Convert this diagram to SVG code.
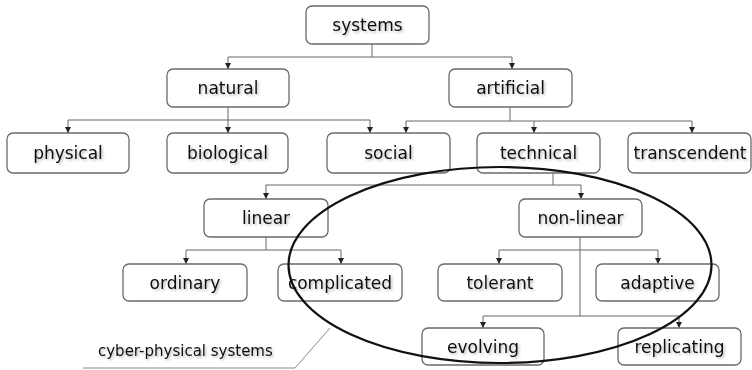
<svg xmlns="http://www.w3.org/2000/svg" width="752" height="370" viewBox="0 0 752 370">
  <defs>
    <marker id="arrow" viewBox="0 0 6 6" refX="6" refY="3" markerWidth="6" markerHeight="6" markerUnits="userSpaceOnUse" orient="auto">
      <path d="M0,0 L6,3 L0,6 Z" fill="#222"/>
    </marker>
    <filter id="soft" x="-10%" y="-30%" width="130%" height="170%">
      <feDropShadow dx="1.5" dy="1.5" stdDeviation="1" flood-color="#000" flood-opacity="0.28"/>
    </filter>
  </defs>
  <style>
    .box { fill: #fff; stroke: #6a6a6a; stroke-width: 1.3; }
    .lbl { font-family: "DejaVu Sans", Verdana, sans-serif; font-size: 17px; fill: #111; text-anchor: middle; filter: url(#soft); }
    .wire { fill: none; stroke: #666; stroke-width: 1; }
    .arr { marker-end: url(#arrow); }
    .note { font-family: "DejaVu Sans", Verdana, sans-serif; font-size: 15px; fill: #111; filter: url(#soft); }
  </style>
  <rect width="752" height="370" fill="#fff"/>

  <!-- connectors -->
  <g id="connectors">
    <!-- systems -->
    <path class="wire" d="M372,44 V57 M228,57 H512"/>
    <path class="wire arr" d="M228,57 V69"/>
    <path class="wire arr" d="M512,57 V69"/>
    <!-- natural -->
    <path class="wire" d="M228,107 V120 M68,120 H370"/>
    <path class="wire arr" d="M68,120 V133"/>
    <path class="wire arr" d="M228,120 V133"/>
    <path class="wire arr" d="M370,120 V133"/>
    <!-- artificial -->
    <path class="wire" d="M510,107 V121 M406,121 H692"/>
    <path class="wire arr" d="M406,121 V133"/>
    <path class="wire arr" d="M534,121 V133"/>
    <path class="wire arr" d="M692,121 V133"/>
    <!-- technical -->
    <path class="wire" d="M553,173 V185 M266,185 H581"/>
    <path class="wire arr" d="M266,185 V199"/>
    <path class="wire arr" d="M581,185 V199"/>
    <!-- linear -->
    <path class="wire" d="M266,237 V250 M186,250 H341"/>
    <path class="wire arr" d="M186,250 V264"/>
    <path class="wire arr" d="M341,250 V264"/>
    <!-- non-linear -->
    <path class="wire" d="M580,237 V316 M499,250 H658 M483,316 H679"/>
    <path class="wire arr" d="M499,250 V264"/>
    <path class="wire arr" d="M658,250 V264"/>
    <path class="wire arr" d="M483,316 V328"/>
    <path class="wire arr" d="M679,316 V328"/>
  </g>

  <g id="n-systems"><rect class="box" x="306" y="6" width="123" height="38" rx="6"/><text class="lbl" x="367.5" y="31">systems</text></g>
  <g id="n-natural"><rect class="box" x="167" y="69" width="122" height="38" rx="6"/><text class="lbl" x="228" y="94">natural</text></g>
  <g id="n-artificial"><rect class="box" x="449" y="69" width="123" height="38" rx="6"/><text class="lbl" x="510.5" y="94">artificial</text></g>

  <g id="n-physical"><rect class="box" x="7" y="133" width="122" height="40" rx="6"/><text class="lbl" x="68" y="159">physical</text></g>
  <g id="n-biological"><rect class="box" x="167" y="133" width="121" height="40" rx="6"/><text class="lbl" x="227.5" y="159">biological</text></g>
  <g id="n-social"><rect class="box" x="327" y="133" width="123" height="40" rx="6"/><text class="lbl" x="388.5" y="159">social</text></g>
  <g id="n-technical"><rect class="box" x="477" y="133" width="123" height="40" rx="6"/><text class="lbl" x="538.5" y="159">technical</text></g>
  <g id="n-transcendent"><rect class="box" x="628" y="133" width="123" height="40" rx="6"/><text class="lbl" x="690" y="159">transcendent</text></g>

  <g id="n-linear"><rect class="box" x="204" y="199" width="124" height="38" rx="6"/><text class="lbl" x="266" y="224">linear</text></g>
  <g id="n-nonlinear"><rect class="box" x="519" y="199" width="123" height="38" rx="6"/><text class="lbl" x="580.5" y="224">non-linear</text></g>

  <g id="n-ordinary"><rect class="box" x="123" y="264" width="124" height="37" rx="6"/><text class="lbl" x="185" y="288.5">ordinary</text></g>
  <g id="n-complicated"><rect class="box" x="278" y="264" width="124" height="37" rx="6"/><text class="lbl" x="340" y="288.5">complicated</text></g>
  <g id="n-tolerant"><rect class="box" x="438" y="264" width="124" height="37" rx="6"/><text class="lbl" x="500" y="288.5">tolerant</text></g>
  <g id="n-adaptive"><rect class="box" x="596" y="264" width="123" height="37" rx="6"/><text class="lbl" x="657.5" y="288.5">adaptive</text></g>

  <g id="n-evolving"><rect class="box" x="422" y="328" width="122" height="37" rx="6"/><text class="lbl" x="483" y="352.5">evolving</text></g>
  <g id="n-replicating"><rect class="box" x="618" y="328" width="123" height="37" rx="6"/><text class="lbl" x="679.5" y="352.5">replicating</text></g>

  <!-- cyber-physical systems region -->
  <g id="cps">
    <ellipse cx="500" cy="265" rx="211.5" ry="98" fill="none" stroke="#111" stroke-width="2.2"/>
    <path d="M330,328 L295,368 H83" fill="none" stroke="#888" stroke-width="1"/>
    <text class="note" x="98" y="356">cyber-physical systems</text>
  </g>
</svg>
